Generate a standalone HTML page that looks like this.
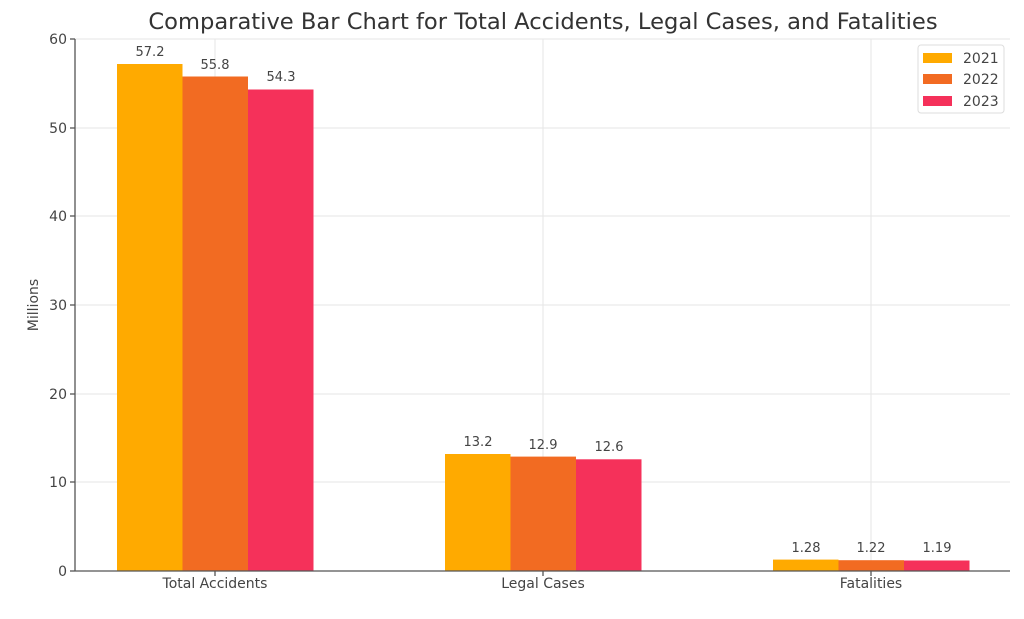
<!DOCTYPE html>
<html><head><meta charset="utf-8"><style>body{margin:0;background:#fff}</style></head><body>
<svg width="1024" height="614" xmlns="http://www.w3.org/2000/svg" font-family="DejaVu Sans, Liberation Sans, sans-serif" fill="#333">
<text x="543" y="29" font-size="22.6" text-anchor="middle" fill="#333">Comparative Bar Chart for Total Accidents, Legal Cases, and Fatalities</text>
<g stroke="#e6e6e6" stroke-width="1">
<line x1="75" x2="1010" y1="39" y2="39"/><line x1="75" x2="1010" y1="128" y2="128"/><line x1="75" x2="1010" y1="216" y2="216"/><line x1="75" x2="1010" y1="305" y2="305"/><line x1="75" x2="1010" y1="394" y2="394"/><line x1="75" x2="1010" y1="482" y2="482"/>
<line x1="215" x2="215" y1="39" y2="571"/><line x1="543" x2="543" y1="39" y2="571"/><line x1="871" x2="871" y1="39" y2="571"/>
</g>
<g>
<rect x="117" y="64" width="65.5" height="507" fill="#FFAA00"/>
<rect x="182.5" y="76.5" width="65.5" height="494.5" fill="#F26B22"/>
<rect x="248" y="89.5" width="65.5" height="481.5" fill="#F5315A"/>
<rect x="445" y="454" width="65.5" height="117" fill="#FFAA00"/>
<rect x="510.5" y="456.6" width="65.5" height="114.4" fill="#F26B22"/>
<rect x="576" y="459.3" width="65.5" height="111.7" fill="#F5315A"/>
<rect x="773" y="559.6" width="65.5" height="11.4" fill="#FFAA00"/>
<rect x="838.5" y="560.2" width="65.5" height="10.8" fill="#F26B22"/>
<rect x="904" y="560.5" width="65.5" height="10.5" fill="#F5315A"/>
</g>
<g stroke="#555" stroke-width="1.3"><line x1="75" y1="39" x2="75" y2="571"/><line x1="75" y1="571" x2="1010" y2="571"/>
<line x1="70" x2="75" y1="39" y2="39"/><line x1="70" x2="75" y1="128" y2="128"/><line x1="70" x2="75" y1="216" y2="216"/><line x1="70" x2="75" y1="305" y2="305"/><line x1="70" x2="75" y1="394" y2="394"/><line x1="70" x2="75" y1="482" y2="482"/><line x1="70" x2="75" y1="571" y2="571"/>
<line x1="215" x2="215" y1="571" y2="576"/><line x1="543" x2="543" y1="571" y2="576"/><line x1="871" x2="871" y1="571" y2="576"/></g>
<g font-size="14" text-anchor="end" fill="#444">
<text x="67" y="44">60</text><text x="67" y="133">50</text><text x="67" y="221">40</text><text x="67" y="310">30</text><text x="67" y="399">20</text><text x="67" y="487">10</text><text x="67" y="576">0</text></g>
<text transform="translate(38,305) rotate(-90)" font-size="14" text-anchor="middle" fill="#444">Millions</text>
<g font-size="14" text-anchor="middle" fill="#444"><text x="215" y="588">Total Accidents</text><text x="543" y="588">Legal Cases</text><text x="871" y="588">Fatalities</text></g>
<g font-size="13" text-anchor="middle" fill="#444">
<text x="150" y="56">57.2</text><text x="215" y="69">55.8</text><text x="281" y="81">54.3</text>
<text x="478" y="446">13.2</text><text x="543" y="449">12.9</text><text x="609" y="451">12.6</text>
<text x="806" y="552">1.28</text><text x="871" y="552">1.22</text><text x="937" y="552">1.19</text></g>
<rect x="918" y="45" width="86" height="68" fill="#fff" stroke="#ddd" rx="3"/>
<rect x="923" y="53" width="29" height="10" fill="#FFAA00"/><rect x="923" y="74" width="29" height="10" fill="#F26B22"/><rect x="923" y="96" width="29" height="10" fill="#F5315A"/>
<g font-size="14" fill="#444"><text x="963" y="63">2021</text><text x="963" y="84">2022</text><text x="963" y="106">2023</text></g>
</svg></body></html>
